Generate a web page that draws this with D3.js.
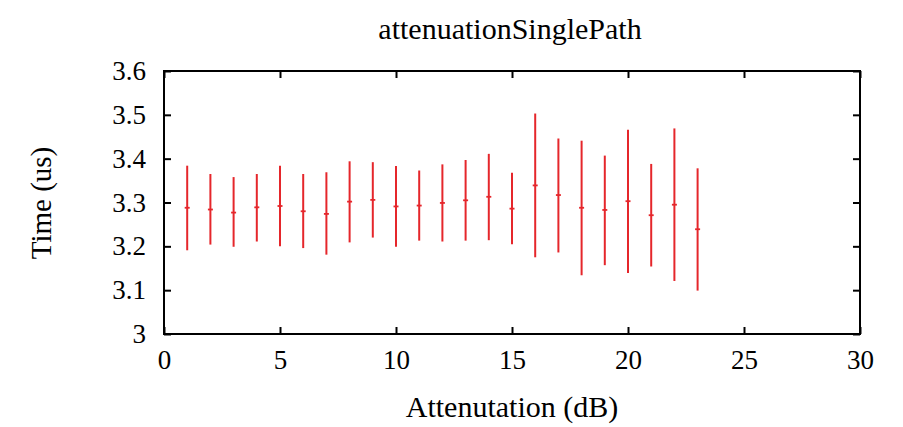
<!DOCTYPE html>
<html>
<head>
<meta charset="utf-8">
<script src="https://cdn.jsdelivr.net/npm/d3@7"></script>
<style>
  body { margin: 0; background: #fff; }
  svg text { font-family: "Liberation Serif", "DejaVu Serif", serif; fill: #000; }
</style>
</head>
<body>
<div id="chart"></div>
<script>
// données
const attenuation = [1, 2, 3, 4, 5, 6, 7, 8, 9, 10, 11, 12, 13, 14, 15, 16, 17, 18, 19, 20, 21, 22, 23];
const timeMean = [3.288, 3.284, 3.277, 3.289, 3.292, 3.280, 3.274, 3.302, 3.306, 3.291, 3.293, 3.299,
  3.305, 3.313, 3.286, 3.339, 3.317, 3.288, 3.283, 3.303, 3.271, 3.295, 3.239];
const timeLow = [3.191, 3.204, 3.199, 3.211, 3.200, 3.196, 3.181, 3.209, 3.220, 3.199, 3.213, 3.211,
  3.213, 3.214, 3.205, 3.175, 3.186, 3.134, 3.157, 3.139, 3.154, 3.121, 3.099];
const timeHigh = [3.384, 3.365, 3.358, 3.365, 3.384, 3.365, 3.369, 3.394, 3.392, 3.383, 3.373, 3.387,
  3.397, 3.411, 3.368, 3.503, 3.446, 3.441, 3.407, 3.466, 3.388, 3.469, 3.378];
const xTicks = [0, 5, 10, 15, 20, 25, 30];
const yTicks = [3, 3.1, 3.2, 3.3, 3.4, 3.5, 3.6];

const points = attenuation.map((a, i) => ({ x: a, y: timeMean[i], lo: timeLow[i], hi: timeHigh[i] }));

const W = 903, H = 427;
const margin = { left: 164, right: 43, top: 71, bottom: 93 };
const width = W - margin.left - margin.right;
const height = H - margin.top - margin.bottom;

const svg = d3.select("#chart").append("svg").attr("width", W).attr("height", H);
const g = svg.append("g").attr("transform", `translate(${margin.left},${margin.top})`);

const scaleX = d3.scaleLinear().domain([0, 30]).range([0, width]);
const scaleY = d3.scaleLinear().domain([3, 3.6]).range([height, 0]);

const tickFont = 27;
const fmt = d => d3.format("")(d);

// axes (ticks intérieurs sur les quatre côtés)
g.append("g").attr("transform", `translate(0,${height})`)
  .call(d3.axisBottom(scaleX).tickValues(xTicks).tickSize(-7).tickPadding(16).tickFormat(fmt));
g.append("g").attr("transform", `translate(0,0)`)
  .call(d3.axisTop(scaleX).tickValues(xTicks).tickSize(-7).tickFormat(""));
g.append("g")
  .call(d3.axisLeft(scaleY).tickValues(yTicks).tickSize(-7).tickPadding(18).tickFormat(fmt));
g.append("g").attr("transform", `translate(${width},0)`)
  .call(d3.axisRight(scaleY).tickValues(yTicks).tickSize(-7).tickFormat(""));

g.selectAll(".domain").remove();
g.selectAll(".tick line").attr("stroke", "#000").attr("stroke-width", 2);
g.selectAll(".tick text").style("font-size", `${tickFont}px`).style("font-family", "Liberation Serif");

// cadre
g.append("rect").attr("width", width).attr("height", height)
  .attr("fill", "none").attr("stroke", "#000").attr("stroke-width", 2);

// barres d'erreur
const red = "#e5262b";
const bars = g.append("g").selectAll("g").data(points).join("g");
bars.append("line")
  .attr("x1", d => scaleX(d.x)).attr("x2", d => scaleX(d.x))
  .attr("y1", d => scaleY(d.lo)).attr("y2", d => scaleY(d.hi))
  .attr("stroke", red).attr("stroke-width", 2);
bars.append("line")
  .attr("x1", d => scaleX(d.x) - 2.5).attr("x2", d => scaleX(d.x) + 2.5)
  .attr("y1", d => scaleY(d.y)).attr("y2", d => scaleY(d.y))
  .attr("stroke", red).attr("stroke-width", 1.8);

// titres
svg.append("text").attr("x", 510).attr("y", 39).attr("text-anchor", "middle")
  .style("font-size", "30px").text("attenuationSinglePath");
svg.append("text").attr("x", margin.left + width / 2).attr("y", 417).attr("text-anchor", "middle")
  .style("font-size", "30px").text("Attenutation (dB)");
svg.append("text").attr("transform", `translate(51,203) rotate(-90)`).attr("text-anchor", "middle")
  .style("font-size", "29px").text("Time (us)");
</script>
</body>
</html>
